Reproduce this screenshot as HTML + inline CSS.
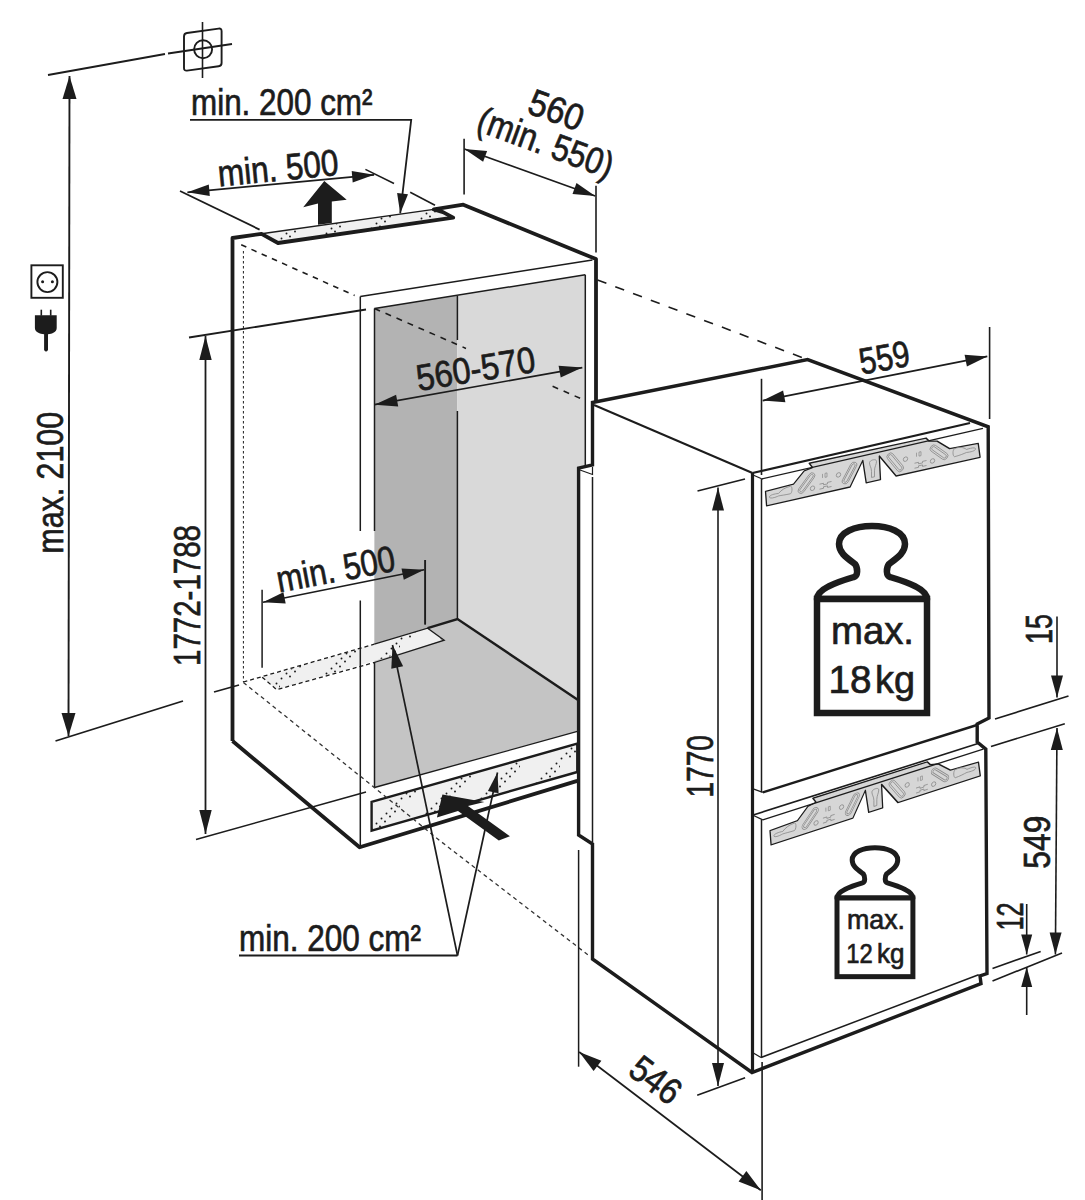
<!DOCTYPE html><html><head><meta charset="utf-8"><style>html,body{margin:0;padding:0;background:#fff;}svg{display:block;}text{font-family:"Liberation Sans",sans-serif;}</style></head><body>
<svg width="1085" height="1200" viewBox="0 0 1085 1200">
<defs><pattern id="dots" width="40" height="40" patternUnits="userSpaceOnUse"><rect width="40" height="40" fill="#f0f0f0"/><circle cx="1.5" cy="38.5" r="0.95" fill="#1a1a1a"/><circle cx="5.0" cy="41.5" r="0.95" fill="#1a1a1a"/><circle cx="6.5" cy="33.5" r="0.95" fill="#1a1a1a"/><circle cx="10.0" cy="36.5" r="0.95" fill="#1a1a1a"/><circle cx="11.5" cy="28.5" r="0.95" fill="#1a1a1a"/><circle cx="15.0" cy="31.5" r="0.95" fill="#1a1a1a"/><circle cx="16.5" cy="23.5" r="0.95" fill="#1a1a1a"/><circle cx="20.0" cy="26.5" r="0.95" fill="#1a1a1a"/><circle cx="21.5" cy="18.5" r="0.95" fill="#1a1a1a"/><circle cx="25.0" cy="21.5" r="0.95" fill="#1a1a1a"/><circle cx="26.5" cy="13.5" r="0.95" fill="#1a1a1a"/><circle cx="30.0" cy="16.5" r="0.95" fill="#1a1a1a"/><circle cx="31.5" cy="8.5" r="0.95" fill="#1a1a1a"/><circle cx="35.0" cy="11.5" r="0.95" fill="#1a1a1a"/><circle cx="36.5" cy="3.5" r="0.95" fill="#1a1a1a"/><circle cx="40.0" cy="6.5" r="0.95" fill="#1a1a1a"/></pattern></defs>
<rect width="1085" height="1200" fill="#fff"/>
<polygon points="374.5,308.5 457.3,295.3 457.5,619 374.3,644.2" fill="#b3b3b3" stroke="none"/>
<polygon points="457.3,295.3 585.5,274.8 585.5,705 457.5,619" fill="#d9d9d9" stroke="none"/>
<polygon points="374.3,644.2 457.5,619 585.5,705 585.5,729.2 374.5,787.5" fill="#c4c4c4" stroke="none"/>
<polygon points="262.2,677.2 427.6,628.2 444.2,640.2 276.7,689.7" fill="url(#dots)" stroke="none"/>
<polyline points="243.4,682 374.3,644.2" fill="none" stroke="#1c1c1c" stroke-width="1.3" stroke-linejoin="miter" stroke-dasharray="4,3"/>
<polyline points="262.2,677.2 276.7,689.7 374.3,662.5" fill="none" stroke="#1c1c1c" stroke-width="1.3" stroke-linejoin="miter" stroke-dasharray="4,3"/>
<polyline points="374.3,644.2 427.6,628.2 444.2,640.2 374.3,662.5" fill="none" stroke="#1c1c1c" stroke-width="1.3" stroke-linejoin="miter"/>
<line x1="374.5" y1="308.5" x2="374.5" y2="531" stroke="#1c1c1c" stroke-width="1.5" stroke-linecap="butt"/>
<line x1="374.5" y1="662" x2="374.5" y2="787.5" stroke="#1c1c1c" stroke-width="1.5" stroke-linecap="butt"/>
<line x1="457.4" y1="296" x2="457.4" y2="340" stroke="#1c1c1c" stroke-width="1.5" stroke-linecap="butt"/>
<line x1="457.4" y1="411" x2="457.4" y2="619" stroke="#1c1c1c" stroke-width="1.5" stroke-linecap="butt"/>
<line x1="425.3" y1="560" x2="425.3" y2="624.5" stroke="#1c1c1c" stroke-width="1.5" stroke-linecap="butt"/>
<polyline points="427.6,628.2 457.5,619 585.5,705" fill="none" stroke="#1c1c1c" stroke-width="2.4" stroke-linejoin="miter"/>
<line x1="374.5" y1="787.5" x2="585.5" y2="729.2" stroke="#1c1c1c" stroke-width="1.3" stroke-linecap="butt"/>
<line x1="585.3" y1="274.8" x2="585.3" y2="466" stroke="#1c1c1c" stroke-width="1.5" stroke-linecap="butt"/>
<line x1="374.5" y1="308.5" x2="585.3" y2="274.8" stroke="#1c1c1c" stroke-width="1.5" stroke-linecap="butt"/>
<polygon points="371.6,801.9 577.3,743.7 577.3,772 371.6,830.7" fill="url(#dots)" stroke="#1c1c1c" stroke-width="2.4" stroke-linejoin="miter"/>
<line x1="360.3" y1="296.5" x2="360.3" y2="531" stroke="#1c1c1c" stroke-width="1.5" stroke-linecap="butt"/>
<line x1="360.3" y1="600.5" x2="360.3" y2="847" stroke="#1c1c1c" stroke-width="1.5" stroke-linecap="butt"/>
<line x1="360.3" y1="296.5" x2="592.4" y2="260" stroke="#1c1c1c" stroke-width="1.5" stroke-linecap="butt"/>
<polygon points="261.5,233.8 433.8,209.4 453.2,217.6 278,243" fill="url(#dots)" stroke="none"/>
<line x1="261.5" y1="233.8" x2="433.8" y2="209.4" stroke="#1c1c1c" stroke-width="1.4" stroke-linecap="butt"/>
<polyline points="232.5,741 232.5,238 261.5,233.8 278,243 453.2,217.6 443,212.1 433.8,209.4 463.3,204.7 596,259.1 596,401" fill="none" stroke="#1c1c1c" stroke-width="3.8" stroke-linejoin="round"/>
<polyline points="232.5,741 359.6,847.3 577.3,780.9" fill="none" stroke="#1c1c1c" stroke-width="3.8" stroke-linejoin="round"/>
<line x1="243.4" y1="251" x2="243.4" y2="682" stroke="#1c1c1c" stroke-width="1.0" stroke-linecap="butt" stroke-dasharray="2.5,2.5"/>
<line x1="241.2" y1="244.8" x2="354.6" y2="295.5" stroke="#1c1c1c" stroke-width="1.6" stroke-linecap="butt" stroke-dasharray="5.6,5.6"/>
<line x1="374.5" y1="308.5" x2="466" y2="348.4" stroke="#1c1c1c" stroke-width="1.6" stroke-linecap="butt" stroke-dasharray="6,6"/>
<line x1="552.6" y1="386.3" x2="580.2" y2="398.3" stroke="#1c1c1c" stroke-width="1.6" stroke-linecap="butt" stroke-dasharray="6,6"/>
<line x1="597.5" y1="280" x2="807.6" y2="359.6" stroke="#1c1c1c" stroke-width="1.6" stroke-linecap="butt" stroke-dasharray="9.5,9.5"/>
<polyline points="243.4,682.5 374.3,787.5 440,840.8 590,956.4" fill="none" stroke="#333" stroke-width="1.3" stroke-linejoin="miter" stroke-dasharray="4,3.5"/>
<polygon points="592.5,402.5 807.6,359.6 988.2,426.8 989,718 977.2,724 977.2,742 985.8,749.1 987,973.5 980,976 981,983.6 752,1072.5 592.5,959 592.5,844 578.6,835 578.6,468 592.5,465" fill="#fff" stroke="none"/>
<g transform="matrix(1,-0.226,0,1,765.5,491.4)"><polygon points="0,0 28,-1 38.7,-11.75 47,-13.2 43.7,-18.3 160.5,-17.1 163.6,-13.3 171.6,-11.5 184.1,-1.2 212.7,0 214.6,14.4 130.6,14.1 113.8,-9.6 115,14.3 100.7,14.2 97.3,-9 84.6,14.7 1.1,14.65" fill="#d6d6d6" stroke="#1c1c1c" stroke-width="1.3" stroke-linejoin="round"/><g transform="translate(41,1) rotate(41)"><rect x="-3.25" y="-11.0" width="6.5" height="22" rx="3.25" fill="none" stroke="#8c8c8c" stroke-width="0.8"/><rect x="-1.65" y="-9.4" width="3.3" height="18.8" rx="1.65" fill="none" stroke="#8c8c8c" stroke-width="0.8"/></g><g transform="translate(84,0.6) rotate(31)"><rect x="-3.25" y="-11.0" width="6.5" height="22" rx="3.25" fill="none" stroke="#8c8c8c" stroke-width="0.8"/><rect x="-1.65" y="-9.4" width="3.3" height="18.8" rx="1.65" fill="none" stroke="#8c8c8c" stroke-width="0.8"/></g><g transform="translate(129.7,0.2) rotate(-35)"><rect x="-3.25" y="-12.0" width="6.5" height="24" rx="3.25" fill="none" stroke="#8c8c8c" stroke-width="0.8"/><rect x="-1.65" y="-10.4" width="3.3" height="20.8" rx="1.65" fill="none" stroke="#8c8c8c" stroke-width="0.8"/></g><g transform="translate(173.5,0.1) rotate(-47)"><rect x="-3.25" y="-11.0" width="6.5" height="22" rx="3.25" fill="none" stroke="#8c8c8c" stroke-width="0.8"/><rect x="-1.65" y="-9.4" width="3.3" height="18.8" rx="1.65" fill="none" stroke="#8c8c8c" stroke-width="0.8"/></g><circle cx="47" cy="7.5" r="2.2" fill="none" stroke="#8c8c8c" stroke-width="0.8"/><circle cx="73" cy="0" r="2.2" fill="none" stroke="#8c8c8c" stroke-width="0.8"/><circle cx="140" cy="-0.6" r="2.2" fill="none" stroke="#8c8c8c" stroke-width="0.8"/><circle cx="167" cy="7.3" r="2.2" fill="none" stroke="#8c8c8c" stroke-width="0.8"/><path d="M54,5.0 h4 v1.5 h4 v-1.5 h4 M54,10.0 h4 v-1.5 h4 v1.5 h4" fill="none" stroke="#8c8c8c" stroke-width="0.8"/><path d="M149,5.5 h4 v1.5 h4 v-1.5 h4 M149,10.5 h4 v-1.5 h4 v1.5 h4" fill="none" stroke="#8c8c8c" stroke-width="0.8"/><path d="M57,-4.6 v4 M59.5,-4.6 h2 v4 h-2 z" fill="none" stroke="#8c8c8c" stroke-width="0.7"/><path d="M151,-4.6 v4 M153.5,-4.6 h2 v4 h-2 z" fill="none" stroke="#8c8c8c" stroke-width="0.7"/><path d="M4,6.5 C4,4.5 9,4.5 13,5 C16,2 20,0.5 25,0.5 C27,0.5 27,7 25,8 C20,8 16,7.5 13,7.5 C9,8.5 4,8.5 4,6.5 Z" fill="none" stroke="#8c8c8c" stroke-width="0.8"/><path d="M210,5 C210,3 205,3 201,3.5 C198,0.5 194,-1 189,0 C187,0.5 187,7 189,8 C194,8 198,7 201,6.5 C205,7 210,7 210,5 Z" fill="none" stroke="#8c8c8c" stroke-width="0.8"/><path d="M104,-5 C104,-8 111,-8 111,-5 C111,-2 109,0 109,4 L109,10 L106,10 L106,4 C106,0 104,-2 104,-5 Z" fill="none" stroke="#8c8c8c" stroke-width="0.8"/></g>
<g transform="matrix(0.98,-0.322,0,1,770,830.6)"><polygon points="0,0 28,-1 38.7,-11.75 47,-13.2 43.7,-18.3 160.5,-17.1 163.6,-13.3 171.6,-11.5 184.1,-1.2 212.7,0 214.6,14.4 130.6,14.1 113.8,-9.6 115,14.3 100.7,14.2 97.3,-9 84.6,14.7 1.1,14.65" fill="#d6d6d6" stroke="#1c1c1c" stroke-width="1.3" stroke-linejoin="round"/><g transform="translate(41,1) rotate(41)"><rect x="-3.25" y="-11.0" width="6.5" height="22" rx="3.25" fill="none" stroke="#8c8c8c" stroke-width="0.8"/><rect x="-1.65" y="-9.4" width="3.3" height="18.8" rx="1.65" fill="none" stroke="#8c8c8c" stroke-width="0.8"/></g><g transform="translate(84,0.6) rotate(31)"><rect x="-3.25" y="-11.0" width="6.5" height="22" rx="3.25" fill="none" stroke="#8c8c8c" stroke-width="0.8"/><rect x="-1.65" y="-9.4" width="3.3" height="18.8" rx="1.65" fill="none" stroke="#8c8c8c" stroke-width="0.8"/></g><g transform="translate(129.7,0.2) rotate(-35)"><rect x="-3.25" y="-12.0" width="6.5" height="24" rx="3.25" fill="none" stroke="#8c8c8c" stroke-width="0.8"/><rect x="-1.65" y="-10.4" width="3.3" height="20.8" rx="1.65" fill="none" stroke="#8c8c8c" stroke-width="0.8"/></g><g transform="translate(173.5,0.1) rotate(-47)"><rect x="-3.25" y="-11.0" width="6.5" height="22" rx="3.25" fill="none" stroke="#8c8c8c" stroke-width="0.8"/><rect x="-1.65" y="-9.4" width="3.3" height="18.8" rx="1.65" fill="none" stroke="#8c8c8c" stroke-width="0.8"/></g><circle cx="47" cy="7.5" r="2.2" fill="none" stroke="#8c8c8c" stroke-width="0.8"/><circle cx="73" cy="0" r="2.2" fill="none" stroke="#8c8c8c" stroke-width="0.8"/><circle cx="140" cy="-0.6" r="2.2" fill="none" stroke="#8c8c8c" stroke-width="0.8"/><circle cx="167" cy="7.3" r="2.2" fill="none" stroke="#8c8c8c" stroke-width="0.8"/><path d="M54,5.0 h4 v1.5 h4 v-1.5 h4 M54,10.0 h4 v-1.5 h4 v1.5 h4" fill="none" stroke="#8c8c8c" stroke-width="0.8"/><path d="M149,5.5 h4 v1.5 h4 v-1.5 h4 M149,10.5 h4 v-1.5 h4 v1.5 h4" fill="none" stroke="#8c8c8c" stroke-width="0.8"/><path d="M57,-4.6 v4 M59.5,-4.6 h2 v4 h-2 z" fill="none" stroke="#8c8c8c" stroke-width="0.7"/><path d="M151,-4.6 v4 M153.5,-4.6 h2 v4 h-2 z" fill="none" stroke="#8c8c8c" stroke-width="0.7"/><path d="M4,6.5 C4,4.5 9,4.5 13,5 C16,2 20,0.5 25,0.5 C27,0.5 27,7 25,8 C20,8 16,7.5 13,7.5 C9,8.5 4,8.5 4,6.5 Z" fill="none" stroke="#8c8c8c" stroke-width="0.8"/><path d="M210,5 C210,3 205,3 201,3.5 C198,0.5 194,-1 189,0 C187,0.5 187,7 189,8 C194,8 198,7 201,6.5 C205,7 210,7 210,5 Z" fill="none" stroke="#8c8c8c" stroke-width="0.8"/><path d="M104,-5 C104,-8 111,-8 111,-5 C111,-2 109,0 109,4 L109,10 L106,10 L106,4 C106,0 104,-2 104,-5 Z" fill="none" stroke="#8c8c8c" stroke-width="0.8"/></g>
<polygon points="592.5,402.5 807.6,359.6 988.2,426.8 989,718 977.2,724 977.2,742 985.8,749.1 987,973.5 980,976 981,983.6 752,1072.5 592.5,959 592.5,844 578.6,835 578.6,468 592.5,465" fill="none" stroke="#1c1c1c" stroke-width="3.4" stroke-linejoin="miter"/>
<line x1="594" y1="405" x2="752.5" y2="473" stroke="#1c1c1c" stroke-width="2.0" stroke-linecap="butt"/>
<polyline points="580,470 592.5,474.5 592.5,467" fill="none" stroke="#1c1c1c" stroke-width="1.2" stroke-linejoin="miter"/>
<line x1="592.5" y1="477" x2="592.5" y2="842" stroke="#1c1c1c" stroke-width="1.5" stroke-linecap="butt"/>
<line x1="578.6" y1="850" x2="578.6" y2="1066.7" stroke="#1c1c1c" stroke-width="1.5" stroke-linecap="butt"/>
<line x1="752.5" y1="473" x2="752.5" y2="1072.5" stroke="#1c1c1c" stroke-width="3.2" stroke-linecap="butt"/>
<line x1="752.5" y1="473" x2="970" y2="423" stroke="#1c1c1c" stroke-width="2.2" stroke-linecap="butt"/>
<line x1="761.5" y1="479" x2="983" y2="428.4" stroke="#1c1c1c" stroke-width="1.4" stroke-linecap="butt"/>
<line x1="752.5" y1="474.8" x2="761.6" y2="478.7" stroke="#1c1c1c" stroke-width="1.2" stroke-linecap="butt"/>
<line x1="761.5" y1="479" x2="761.5" y2="792.3" stroke="#1c1c1c" stroke-width="1.5" stroke-linecap="butt"/>
<line x1="762.8" y1="792.3" x2="977" y2="725" stroke="#1c1c1c" stroke-width="2.4" stroke-linecap="butt"/>
<line x1="752.5" y1="788.7" x2="762.8" y2="792.3" stroke="#1c1c1c" stroke-width="1.3" stroke-linecap="butt"/>
<line x1="753.2" y1="815" x2="979.6" y2="743.1" stroke="#1c1c1c" stroke-width="1.6" stroke-linecap="butt"/>
<line x1="762.8" y1="819.8" x2="983.2" y2="749.1" stroke="#1c1c1c" stroke-width="1.3" stroke-linecap="butt"/>
<line x1="752.5" y1="815" x2="762.8" y2="819.8" stroke="#1c1c1c" stroke-width="1.3" stroke-linecap="butt"/>
<line x1="761.5" y1="819.8" x2="761.5" y2="1057.5" stroke="#1c1c1c" stroke-width="1.5" stroke-linecap="butt"/>
<line x1="761" y1="1057.5" x2="978.6" y2="974.8" stroke="#1c1c1c" stroke-width="1.5" stroke-linecap="butt"/>
<line x1="752.5" y1="1052.5" x2="761" y2="1057.5" stroke="#1c1c1c" stroke-width="1.3" stroke-linecap="butt"/>
<g transform="translate(817,599) scale(1.0)"><path d="M0,0 C0,-10 20,-17 37,-22 C41,-23 41,-31 38,-35 C30,-41 22,-46 22,-55 C22,-67 38,-73 55,-73 C72,-73 88,-67 88,-55 C88,-46 80,-41 72,-35 C69,-31 69,-23 73,-22 C90,-17 110,-10 110,0 Z" fill="#fff" stroke="#1c1c1c" stroke-width="6.5" stroke-linejoin="round"/><rect x="0" y="0" width="110" height="114" fill="#fff" stroke="#1c1c1c" stroke-width="6.5"/></g>
<g transform="translate(837,898) scale(0.69)"><path d="M0,0 C0,-10 20,-17 37,-22 C41,-23 41,-31 38,-35 C30,-41 22,-46 22,-55 C22,-67 38,-73 55,-73 C72,-73 88,-67 88,-55 C88,-46 80,-41 72,-35 C69,-31 69,-23 73,-22 C90,-17 110,-10 110,0 Z" fill="#fff" stroke="#1c1c1c" stroke-width="7.246376811594203" stroke-linejoin="round"/><rect x="0" y="0" width="110" height="114" fill="#fff" stroke="#1c1c1c" stroke-width="7.246376811594203"/></g>
<text x="0" y="0" transform="translate(831,643.9) rotate(0)" font-size="39" text-anchor="start" textLength="83" lengthAdjust="spacingAndGlyphs" fill="#1c1c1c" stroke="#1c1c1c" stroke-width="0.7">max.</text>
<text x="0" y="0" transform="translate(828.5,692.5) rotate(0)" font-size="39" text-anchor="start" textLength="43" lengthAdjust="spacingAndGlyphs" fill="#1c1c1c" stroke="#1c1c1c" stroke-width="0.7">18</text>
<text x="0" y="0" transform="translate(875,692.5) rotate(0)" font-size="39" text-anchor="start" textLength="40" lengthAdjust="spacingAndGlyphs" fill="#1c1c1c" stroke="#1c1c1c" stroke-width="0.7">kg</text>
<text x="0" y="0" transform="translate(847,929.4) rotate(0)" font-size="28.5" text-anchor="start" textLength="58" lengthAdjust="spacingAndGlyphs" fill="#1c1c1c" stroke="#1c1c1c" stroke-width="0.7">max.</text>
<text x="0" y="0" transform="translate(846.3,963.4) rotate(0)" font-size="28.5" text-anchor="start" textLength="26.5" lengthAdjust="spacingAndGlyphs" fill="#1c1c1c" stroke="#1c1c1c" stroke-width="0.7">12</text>
<text x="0" y="0" transform="translate(877,963.4) rotate(0)" font-size="28.5" text-anchor="start" textLength="27.5" lengthAdjust="spacingAndGlyphs" fill="#1c1c1c" stroke="#1c1c1c" stroke-width="0.7">kg</text>
<line x1="48" y1="75" x2="165" y2="54" stroke="#1c1c1c" stroke-width="1.8" stroke-linecap="butt"/>
<line x1="168" y1="53.5" x2="232" y2="44" stroke="#1c1c1c" stroke-width="1.8" stroke-linecap="butt"/>
<path d="M187,33 L218.6,28.6 Q221.6,28.2 221.6,31.2 L221.6,63 Q221.6,65.9 218.6,66.3 L187,70.6 Q184,71 184,68 L184,36.4 Q184,33.4 187,33 Z" fill="none" stroke="#1c1c1c" stroke-width="1.9"/>
<circle cx="203.1" cy="49.3" r="9" fill="none" stroke="#1c1c1c" stroke-width="1.9"/>
<line x1="202.5" y1="22" x2="202.5" y2="78" stroke="#1c1c1c" stroke-width="1.6" stroke-linecap="butt"/>
<line x1="69.5" y1="76" x2="68.5" y2="736" stroke="#1c1c1c" stroke-width="1.9" stroke-linecap="butt"/><polygon points="69.5,76.0 62.5,99.0 76.5,99.0" fill="#1c1c1c"/><polygon points="68.5,736.0 75.5,713.0 61.5,713.0" fill="#1c1c1c"/>
<line x1="55.5" y1="741" x2="183" y2="701" stroke="#1c1c1c" stroke-width="1.8" stroke-linecap="butt"/>
<line x1="214" y1="692" x2="239" y2="685" stroke="#1c1c1c" stroke-width="1.8" stroke-linecap="butt"/>
<text x="0" y="0" transform="translate(62.9,553.5) rotate(-90)" font-size="37" text-anchor="start" textLength="141.5" lengthAdjust="spacingAndGlyphs" fill="#1c1c1c" stroke="#1c1c1c" stroke-width="0.7">max. 2100</text>
<rect x="31.4" y="265.3" width="31.4" height="32.5" fill="none" stroke="#1c1c1c" stroke-width="1.9"/>
<circle cx="47.4" cy="282.1" r="10" fill="none" stroke="#1c1c1c" stroke-width="1.9"/>
<circle cx="42.6" cy="281.7" r="1.5" fill="#1c1c1c"/><circle cx="52.4" cy="281.7" r="1.5" fill="#1c1c1c"/>
<path d="M34.9,315.2 H56.7 V328 C56.7,332 52,334 48,334.2 V350 Q46,353 44.1,350 V334.2 C40,334 34.9,332 34.9,328 Z" fill="#1c1c1c"/>
<rect x="40.5" y="309.7" width="1.6" height="6" fill="#1c1c1c"/><rect x="49.9" y="309.7" width="1.6" height="6" fill="#1c1c1c"/>
<line x1="205.5" y1="336" x2="205.5" y2="834" stroke="#1c1c1c" stroke-width="1.8" stroke-linecap="butt"/><polygon points="205.5,336.0 199.3,360.0 211.7,360.0" fill="#1c1c1c"/><polygon points="205.5,834.0 211.7,810.0 199.3,810.0" fill="#1c1c1c"/>
<line x1="189" y1="337.5" x2="366" y2="309.5" stroke="#1c1c1c" stroke-width="1.8" stroke-linecap="butt"/>
<line x1="196" y1="839.5" x2="366" y2="792" stroke="#1c1c1c" stroke-width="1.6" stroke-linecap="butt"/>
<text x="0" y="0" transform="translate(200,666) rotate(-90)" font-size="37" text-anchor="start" textLength="141" lengthAdjust="spacingAndGlyphs" fill="#1c1c1c" stroke="#1c1c1c" stroke-width="0.7">1772-1788</text>
<text x="0" y="0" transform="translate(191,115.4) rotate(0)" font-size="37" text-anchor="start" textLength="181.5" lengthAdjust="spacingAndGlyphs" fill="#1c1c1c" stroke="#1c1c1c" stroke-width="0.7">min. 200 cm²</text>
<polyline points="190,119.8 411.2,119.8 400.2,213.4" fill="none" stroke="#1c1c1c" stroke-width="1.8" stroke-linejoin="miter"/>
<polygon points="400.2,213.4 408.0,194.2 397.1,192.9" fill="#1c1c1c"/>
<line x1="187.4" y1="192.3" x2="374.1" y2="174.8" stroke="#1c1c1c" stroke-width="1.7" stroke-linecap="butt"/><polygon points="187.4,192.3 209.8,196.0 208.8,184.5" fill="#1c1c1c"/><polygon points="374.1,174.8 351.7,171.1 352.7,182.6" fill="#1c1c1c"/>
<line x1="180" y1="191" x2="259.6" y2="229.6" stroke="#1c1c1c" stroke-width="1.8" stroke-linecap="butt"/>
<line x1="365.4" y1="169.4" x2="394" y2="183.5" stroke="#1c1c1c" stroke-width="1.6" stroke-linecap="butt"/>
<line x1="410.2" y1="192.3" x2="435" y2="205.2" stroke="#1c1c1c" stroke-width="1.6" stroke-linecap="butt"/>
<text x="0" y="0" transform="translate(219,186.5) rotate(-5.5)" font-size="37" text-anchor="start" textLength="121" lengthAdjust="spacingAndGlyphs" fill="#1c1c1c" stroke="#1c1c1c" stroke-width="0.7">min. 500</text>
<polygon points="324.3,181.1 346.7,199.7 331.8,201.5 331.8,223 318,224.8 318,203.5 303.2,207.2" fill="#1c1c1c"/>
<line x1="464.1" y1="138.8" x2="464.1" y2="194.4" stroke="#1c1c1c" stroke-width="1.6" stroke-linecap="butt"/>
<line x1="596" y1="185.8" x2="596" y2="252.5" stroke="#1c1c1c" stroke-width="1.6" stroke-linecap="butt"/>
<line x1="464.4" y1="148.9" x2="595.2" y2="196" stroke="#1c1c1c" stroke-width="1.6" stroke-linecap="butt"/><polygon points="464.4,148.9 483.1,161.8 487.1,150.9" fill="#1c1c1c"/><polygon points="595.2,196.0 576.5,183.1 572.5,194.0" fill="#1c1c1c"/>
<text x="0" y="0" transform="translate(552,122) rotate(20)" font-size="37" text-anchor="middle" textLength="56" lengthAdjust="spacingAndGlyphs" fill="#1c1c1c" stroke="#1c1c1c" stroke-width="0.7">560</text>
<text x="0" y="0" transform="translate(541.5,154.5) rotate(20)" font-size="37" text-anchor="middle" textLength="142" lengthAdjust="spacingAndGlyphs" fill="#1c1c1c" stroke="#1c1c1c" stroke-width="0.7">(min. 550)</text>
<line x1="374.5" y1="404.7" x2="582.3" y2="367.6" stroke="#1c1c1c" stroke-width="1.7" stroke-linecap="butt"/><polygon points="374.5,404.7 398.2,406.6 396.1,394.8" fill="#1c1c1c"/><polygon points="582.3,367.6 558.6,365.7 560.7,377.5" fill="#1c1c1c"/>
<line x1="580" y1="398.5" x2="580" y2="398.5" stroke="#1c1c1c" stroke-width="1" stroke-linecap="butt"/>
<text x="0" y="0" transform="translate(418.5,391) rotate(-9.3)" font-size="37" text-anchor="start" textLength="120" lengthAdjust="spacingAndGlyphs" fill="#1c1c1c" stroke="#1c1c1c" stroke-width="0.7">560-570</text>
<line x1="262.1" y1="589.7" x2="262.1" y2="667.7" stroke="#1c1c1c" stroke-width="1.5" stroke-linecap="butt"/>
<line x1="425" y1="559.9" x2="425" y2="624.5" stroke="#1c1c1c" stroke-width="1.5" stroke-linecap="butt"/>
<line x1="263" y1="602.2" x2="424.2" y2="569.8" stroke="#1c1c1c" stroke-width="1.6" stroke-linecap="butt"/><polygon points="263.0,602.2 285.7,603.6 283.4,592.2" fill="#1c1c1c"/><polygon points="424.2,569.8 401.5,568.4 403.8,579.8" fill="#1c1c1c"/>
<text x="0" y="0" transform="translate(279,592.5) rotate(-10.5)" font-size="37" text-anchor="start" textLength="120" lengthAdjust="spacingAndGlyphs" fill="#1c1c1c" stroke="#1c1c1c" stroke-width="0.7">min. 500</text>
<text x="0" y="0" transform="translate(239,951) rotate(0)" font-size="37" text-anchor="start" textLength="182" lengthAdjust="spacingAndGlyphs" fill="#1c1c1c" stroke="#1c1c1c" stroke-width="0.7">min. 200 cm²</text>
<polyline points="239,955.5 457.5,955.5" fill="none" stroke="#1c1c1c" stroke-width="1.8" stroke-linejoin="miter"/>
<line x1="457.5" y1="955.5" x2="392.5" y2="645" stroke="#1c1c1c" stroke-width="1.7" stroke-linecap="butt"/>
<line x1="457.5" y1="955.5" x2="497.5" y2="772.5" stroke="#1c1c1c" stroke-width="1.7" stroke-linecap="butt"/>
<polygon points="392.5,645.0 391.3,668.7 403.1,666.3" fill="#1c1c1c"/>
<polygon points="497.5,772.5 487.9,790.9 498.6,793.2" fill="#1c1c1c"/>
<polygon points="442.4,794.6 484.4,801.9 468,806 509.9,836.2 498.8,840.6 458,811 436.9,817.4" fill="#1c1c1c"/>
<line x1="718" y1="487.5" x2="718" y2="1086" stroke="#1c1c1c" stroke-width="1.6" stroke-linecap="butt"/><polygon points="718.0,487.5 712.0,510.5 724.0,510.5" fill="#1c1c1c"/><polygon points="718.0,1086.0 724.0,1063.0 712.0,1063.0" fill="#1c1c1c"/>
<line x1="697.5" y1="491" x2="745" y2="479" stroke="#1c1c1c" stroke-width="1.6" stroke-linecap="butt"/>
<line x1="697.2" y1="1095.3" x2="745.1" y2="1077.8" stroke="#1c1c1c" stroke-width="1.6" stroke-linecap="butt"/>
<text x="0" y="0" transform="translate(712.5,797.5) rotate(-90)" font-size="37" text-anchor="start" textLength="62.5" lengthAdjust="spacingAndGlyphs" fill="#1c1c1c" stroke="#1c1c1c" stroke-width="0.7">1770</text>
<line x1="761.5" y1="378.8" x2="761.5" y2="475" stroke="#1c1c1c" stroke-width="1.6" stroke-linecap="butt"/>
<line x1="989.6" y1="327" x2="989.6" y2="419" stroke="#1c1c1c" stroke-width="1.6" stroke-linecap="butt"/>
<line x1="762.7" y1="400.6" x2="987.3" y2="356.4" stroke="#1c1c1c" stroke-width="1.6" stroke-linecap="butt"/><polygon points="762.7,400.6 785.4,402.2 783.1,390.5" fill="#1c1c1c"/><polygon points="987.3,356.4 964.6,354.8 966.9,366.5" fill="#1c1c1c"/>
<text x="0" y="0" transform="translate(886.5,370) rotate(-10)" font-size="37" text-anchor="middle" textLength="51" lengthAdjust="spacingAndGlyphs" fill="#1c1c1c" stroke="#1c1c1c" stroke-width="0.7">559</text>
<line x1="995" y1="719" x2="1068.5" y2="696" stroke="#1c1c1c" stroke-width="1.6" stroke-linecap="butt"/>
<line x1="991" y1="746.5" x2="1064.8" y2="723.7" stroke="#1c1c1c" stroke-width="1.6" stroke-linecap="butt"/>
<line x1="992.5" y1="968.4" x2="1040.7" y2="951.5" stroke="#1c1c1c" stroke-width="1.6" stroke-linecap="butt"/>
<line x1="992.5" y1="981" x2="1062" y2="953" stroke="#1c1c1c" stroke-width="1.6" stroke-linecap="butt"/>
<line x1="1057" y1="616.5" x2="1057" y2="697.6" stroke="#1c1c1c" stroke-width="1.6" stroke-linecap="butt"/>
<polygon points="1057.0,697.6 1063.0,675.6 1051.0,675.6" fill="#1c1c1c"/>
<line x1="1057" y1="728" x2="1055.4" y2="954.5" stroke="#1c1c1c" stroke-width="1.6" stroke-linecap="butt"/><polygon points="1057.0,728.0 1050.8,750.0 1062.8,750.0" fill="#1c1c1c"/><polygon points="1055.4,954.5 1061.6,932.5 1049.6,932.5" fill="#1c1c1c"/>
<line x1="1026.7" y1="904" x2="1026.7" y2="954.5" stroke="#1c1c1c" stroke-width="1.6" stroke-linecap="butt"/>
<polygon points="1026.7,954.5 1032.2,934.5 1021.2,934.5" fill="#1c1c1c"/>
<line x1="1026.7" y1="967" x2="1026.7" y2="1015" stroke="#1c1c1c" stroke-width="1.6" stroke-linecap="butt"/>
<polygon points="1026.7,967.0 1021.2,987.0 1032.2,987.0" fill="#1c1c1c"/>
<text x="0" y="0" transform="translate(1052,644) rotate(-90)" font-size="37" text-anchor="start" textLength="30" lengthAdjust="spacingAndGlyphs" fill="#1c1c1c" stroke="#1c1c1c" stroke-width="0.7">15</text>
<text x="0" y="0" transform="translate(1049.5,868.7) rotate(-90)" font-size="37" text-anchor="start" textLength="53" lengthAdjust="spacingAndGlyphs" fill="#1c1c1c" stroke="#1c1c1c" stroke-width="0.7">549</text>
<text x="0" y="0" transform="translate(1023,930.4) rotate(-90)" font-size="37" text-anchor="start" textLength="28" lengthAdjust="spacingAndGlyphs" fill="#1c1c1c" stroke="#1c1c1c" stroke-width="0.7">12</text>
<line x1="579.2" y1="1052" x2="760.8" y2="1190.2" stroke="#1c1c1c" stroke-width="1.7" stroke-linecap="butt"/><polygon points="579.2,1052.0 593.6,1071.1 601.4,1060.8" fill="#1c1c1c"/><polygon points="760.8,1190.2 746.4,1171.1 738.6,1181.4" fill="#1c1c1c"/>
<line x1="762.1" y1="1062" x2="762.1" y2="1200" stroke="#1c1c1c" stroke-width="1.6" stroke-linecap="butt"/>
<text x="0" y="0" transform="translate(648,1090) rotate(37.3)" font-size="37" text-anchor="middle" textLength="54" lengthAdjust="spacingAndGlyphs" fill="#1c1c1c" stroke="#1c1c1c" stroke-width="0.7">546</text>
</svg></body></html>
